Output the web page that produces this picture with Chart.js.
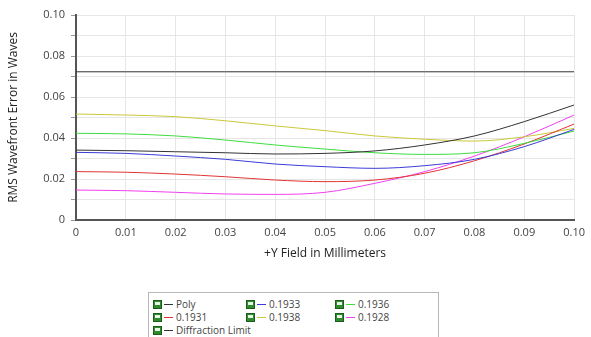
<!DOCTYPE html>
<html>
<head>
<meta charset="utf-8">
<script src="https://cdn.jsdelivr.net/npm/chart.js@4"></script>
<style>
    body { margin: 0; background: #fff; font-family: "Open Sans", sans-serif; }
    #wrap { position: absolute; left: 0; top: 0; width: 591px; height: 270px; }
    #legend {
        position: absolute; left: 148px; top: 292px; width: 289px; height: 60px;
        border: 1px solid #b8b8b8; font-size: 10px; color: #444;
    }
    .item { position: absolute; display: flex; align-items: center; white-space: nowrap; }
    .chk { width: 7px; height: 7px; background: #2e8b2e; border: 1px solid #1c5c1c; margin-right: 2px; position: relative; }
    .chk::after { content: ""; position: absolute; left: 1px; top: 1px; width: 5px; height: 3px; background: #e8f6e8; }
    .ln { width: 9px; height: 1px; margin-right: 3px; }
</style>
</head>
<body>
<div id="wrap"><canvas id="chart"></canvas></div>
<div id="legend"></div>
<script>
// Data dibaca dari gambar rujukan
const xField = [0, 0.01, 0.02, 0.03, 0.04, 0.05, 0.06, 0.07, 0.08, 0.09, 0.10];
const polyVals   = [0.0341, 0.0338, 0.0333, 0.0328, 0.0322, 0.0325, 0.0337, 0.0366, 0.0410, 0.0480, 0.0561];
const v1933      = [0.0330, 0.0325, 0.0312, 0.0296, 0.0273, 0.0260, 0.0252, 0.0265, 0.0296, 0.0358, 0.0442];
const v1936      = [0.0423, 0.0420, 0.0410, 0.0390, 0.0366, 0.0346, 0.0328, 0.0320, 0.0328, 0.0374, 0.0434];
const v1931      = [0.0236, 0.0233, 0.0224, 0.0211, 0.0195, 0.0187, 0.0195, 0.0228, 0.0289, 0.0371, 0.0468];
const v1938      = [0.0517, 0.0512, 0.0504, 0.0484, 0.0459, 0.0436, 0.0410, 0.0394, 0.0385, 0.0406, 0.0447];
const v1928      = [0.0146, 0.0143, 0.0135, 0.0127, 0.0125, 0.0135, 0.0179, 0.0236, 0.0312, 0.0406, 0.0512];
const diffLimit  = [0.0723, 0.0723, 0.0723, 0.0723, 0.0723, 0.0723, 0.0723, 0.0723, 0.0723, 0.0723, 0.0723];

const seriesNames = ['Poly', '0.1933', '0.1936', '0.1931', '0.1938', '0.1928', 'Diffraction Limit'];
const seriesVals = [polyVals, v1933, v1936, v1931, v1938, v1928, diffLimit];
const seriesColors = ['#333333', '#3b3bd6', '#3fdc3f', '#e03434', '#c9c93a', '#f040f0', '#333333'];

const datasets = seriesNames.map((name, i) => ({
    label: name,
    data: xField.map((x, j) => ({ x: x, y: seriesVals[i][j] })),
    borderColor: seriesColors[i],
    borderWidth: 1,
    pointRadius: 0,
    tension: 0.4,
    cubicInterpolationMode: 'monotone',
    fill: false
}));

const tickFont = { family: 'Open Sans', size: 11 };

new Chart(document.getElementById('chart'), {
    type: 'line',
    data: { datasets: datasets },
    options: {
        responsive: true,
        maintainAspectRatio: false,
        animation: false,
        layout: { padding: { left: 0, right: 11, top: 15, bottom: 0 } },
        plugins: { legend: { display: false }, tooltip: { enabled: false } },
        scales: {
            x: {
                type: 'linear', min: 0, max: 0.10,
                ticks: { stepSize: 0.01, color: '#444', font: tickFont, padding: 6,
                    callback: v => v === 0 ? '0' : v.toFixed(2) },
                grid: { color: '#e6e6e6', tickLength: 4, drawTicks: false },
                border: { color: '#555', width: 2 },
                title: { display: true, text: '+Y Field in Millimeters', color: '#222',
                    font: { family: 'Open Sans', size: 12 }, padding: { top: 2, bottom: 9 } },
                afterFit: s => { s.height = 50; }
            },
            y: {
                min: 0, max: 0.10,
                ticks: { stepSize: 0.01, color: '#444', font: tickFont, padding: 6,
                    callback: v => {
                        const k = Math.round(v * 100);
                        if (k % 2 !== 0) return '';
                        return k === 0 ? '0' : v.toFixed(2);
                    } },
                grid: { color: '#e6e6e6', tickLength: 5, tickColor: '#999' },
                border: { color: '#555', width: 2 },
                title: { display: true, text: 'RMS Wavefront Error in Waves', color: '#222',
                    font: { family: 'Open Sans', size: 12 }, padding: { top: 6, bottom: 4 } },
                afterFit: s => { s.width = 76; }
            }
        }
    }
});

// Legenda HTML (3 lajur)
const legend = document.getElementById('legend');
const colX = [4, 97, 186];
seriesNames.forEach((name, i) => {
    const col = i % 3, row = Math.floor(i / 3);
    const el = document.createElement('div');
    el.className = 'item';
    el.style.left = colX[col] + 'px';
    el.style.top = (4 + row * 13) + 'px';
    el.innerHTML = `<span class="chk"></span><span class="ln" style="background:${seriesColors[i]}"></span>${name}`;
    legend.appendChild(el);
});
</script>
</body>
</html>
